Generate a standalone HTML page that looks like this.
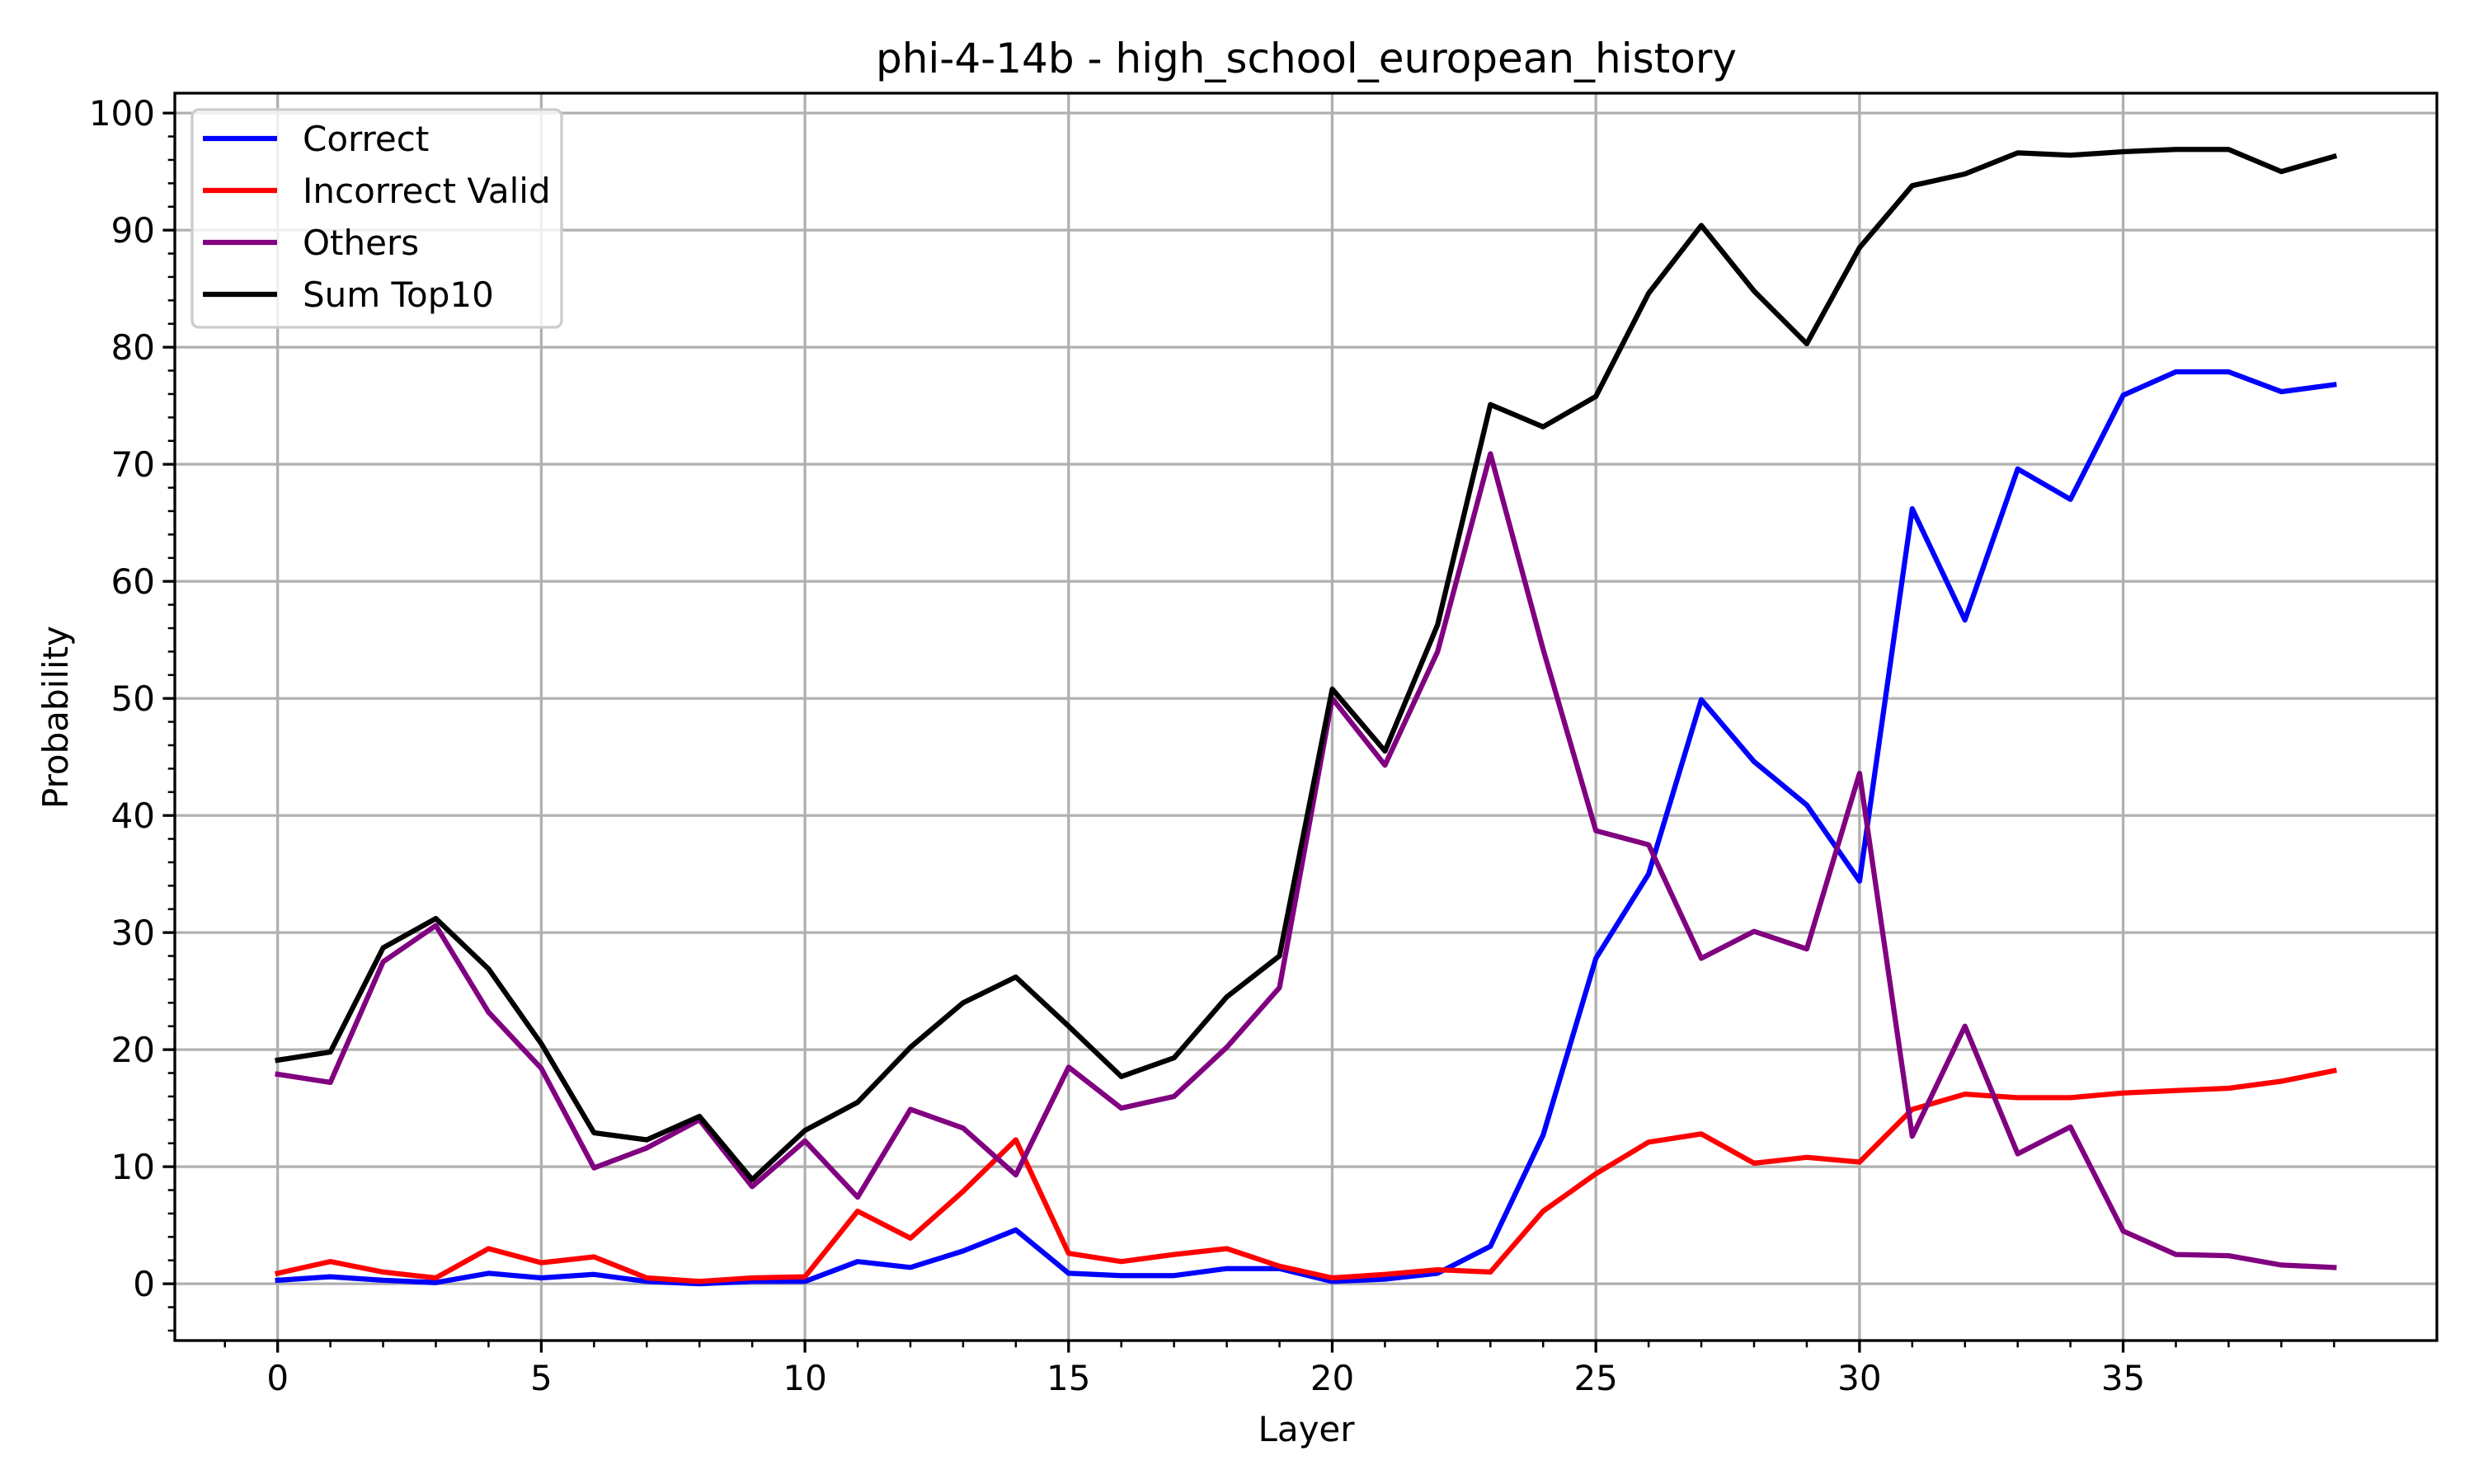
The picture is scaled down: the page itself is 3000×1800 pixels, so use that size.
<!DOCTYPE html>
<html><head><meta charset="utf-8"><style>
html,body{margin:0;padding:0;background:#fff;}
svg{display:block;font-family:"DejaVu Sans","Liberation Sans",sans-serif;}
</style></head><body>
<svg id="chart" width="3000" height="1800" xmlns="http://www.w3.org/2000/svg">
<rect x="0" y="0" width="3000" height="1800" fill="#fff"/>
<text x="1584" y="88" font-size="50" text-anchor="middle">phi-4-14b - high_school_european_history</text>
<text x="1584" y="1748" font-size="42" text-anchor="middle">Layer</text>
<text transform="translate(82,870) rotate(-90)" font-size="42" text-anchor="middle">Probability</text>
<g id="grid"></g><g id="series"></g><g id="axes"></g><g id="legend"></g>
</svg>
<script>
const layers = [0,1,2,3,4,5,6,7,8,9,10,11,12,13,14,15,16,17,18,19,20,21,22,23,24,25,26,27,28,29,30,31,32,33,34,35,36,37,38,39];
const correct = [0.3,0.6,0.3,0.1,0.9,0.5,0.8,0.2,0.0,0.2,0.2,1.9,1.4,2.8,4.6,0.9,0.7,0.7,1.3,1.3,0.2,0.4,0.9,3.2,12.7,27.8,35.0,49.9,44.6,40.9,34.4,66.2,56.7,69.6,67.0,75.9,77.9,77.9,76.2,76.8];
const incorrectValid = [0.9,1.9,1.0,0.5,3.0,1.8,2.3,0.5,0.2,0.5,0.6,6.2,3.9,7.9,12.3,2.6,1.9,2.5,3.0,1.5,0.5,0.8,1.2,1.0,6.2,9.4,12.1,12.8,10.3,10.8,10.4,14.9,16.2,15.9,15.9,16.3,16.5,16.7,17.3,18.2];
const others = [17.9,17.2,27.5,30.6,23.2,18.4,9.9,11.6,14.0,8.3,12.2,7.4,14.9,13.3,9.3,18.5,15.0,16.0,20.2,25.3,50.0,44.3,54.0,70.9,54.2,38.7,37.5,27.8,30.1,28.6,43.6,12.6,22.0,11.1,13.4,4.5,2.5,2.4,1.6,1.4];
const sumTop10 = [19.1,19.8,28.7,31.2,26.9,20.5,12.9,12.3,14.3,8.9,13.1,15.5,20.2,24.0,26.2,22.0,17.7,19.3,24.5,28.0,50.8,45.5,56.3,75.1,73.2,75.8,84.6,90.4,84.8,80.3,88.5,93.8,94.8,96.6,96.4,96.7,96.9,96.9,95.0,96.3];
const xTicks = [0,5,10,15,20,25,30,35];
const yTicks = [0,10,20,30,40,50,60,70,80,90,100];
const seriesNames = ["Correct","Incorrect Valid","Others","Sum Top10"];

const NS="http://www.w3.org/2000/svg";
const L=212,R=2955,T=113,B=1626;
const xMin=-1.95,xMax=40.95,yMin=-4.85,yMax=101.7;
function xs(v){return L+(v-xMin)/(xMax-xMin)*(R-L);}
function ys(v){return B-(v-yMin)/(yMax-yMin)*(B-T);}
function mk(tag,attrs,parent){const e=document.createElementNS(NS,tag);for(const k in attrs)e.setAttribute(k,attrs[k]);parent.appendChild(e);return e;}
const grid=document.getElementById('grid'),axes=document.getElementById('axes'),ser=document.getElementById('series'),leg=document.getElementById('legend');
xTicks.forEach(t=>{
  const g=mk('line',{x1:xs(t),x2:xs(t),y1:T,y2:B,stroke:'#b0b0b0','stroke-width':3.3},grid);
  
  
  mk('line',{x1:xs(t),x2:xs(t),y1:B,y2:B+14.6,stroke:'#000','stroke-width':3.3},axes);
  const tx=mk('text',{x:xs(t),y:B+60,'font-size':42,'text-anchor':'middle'},axes);
  tx.textContent=t;
  
  
});
yTicks.forEach(t=>{
  const g=mk('line',{x1:L,x2:R,y1:ys(t),y2:ys(t),stroke:'#b0b0b0','stroke-width':3.3},grid);
  
  
  mk('line',{x1:L-14.6,x2:L,y1:ys(t),y2:ys(t),stroke:'#000','stroke-width':3.3},axes);
  const tx=mk('text',{x:L-24,y:ys(t)+15,'font-size':42,'text-anchor':'end'},axes);
  tx.textContent=t;
  
  
});
for(let v=-1;v<=40;v++){if(v%5!==0)mk('line',{x1:xs(v),x2:xs(v),y1:B,y2:B+8.3,stroke:'#000','stroke-width':2.5},axes);}
for(let v=-4;v<=100;v+=2){if(v%10!==0)mk('line',{x1:L-8.3,x2:L,y1:ys(v),y2:ys(v),stroke:'#000','stroke-width':2.5},axes);}
const frame=mk('rect',{x:L,y:T,width:R-L,height:B-T,fill:'none',stroke:'#000','stroke-width':3.3},axes);


const data=[correct,incorrectValid,others,sumTop10];
const colors=['#0000ff','#ff0000','#800080','#000000'];
const ids=['correct-line','incorrect-valid-line','others-line','sum-top10-line'];
data.forEach((arr,i)=>{
  const pts=arr.map((v,j)=>xs(layers[j]).toFixed(1)+','+ys(v).toFixed(1)).join(' ');
  const p=mk('polyline',{points:pts,fill:'none',stroke:colors[i],'stroke-width':6.25,'stroke-linejoin':'round','stroke-linecap':'square'},ser);
  
  
});
const box=mk('rect',{x:233,y:133,width:448,height:264,rx:8,fill:'#fff','fill-opacity':0.8,stroke:'#cccccc','stroke-width':3.3},leg);


seriesNames.forEach((n,i)=>{
  const y=168+i*63;
  const ln=mk('line',{x1:246,x2:336,y1:y,y2:y,stroke:colors[i],'stroke-width':6.25},leg);
  
  
  const t=mk('text',{x:367,y:y+15,'font-size':42},leg);
  t.textContent=n;
  
  
});
</script>
</body></html>
